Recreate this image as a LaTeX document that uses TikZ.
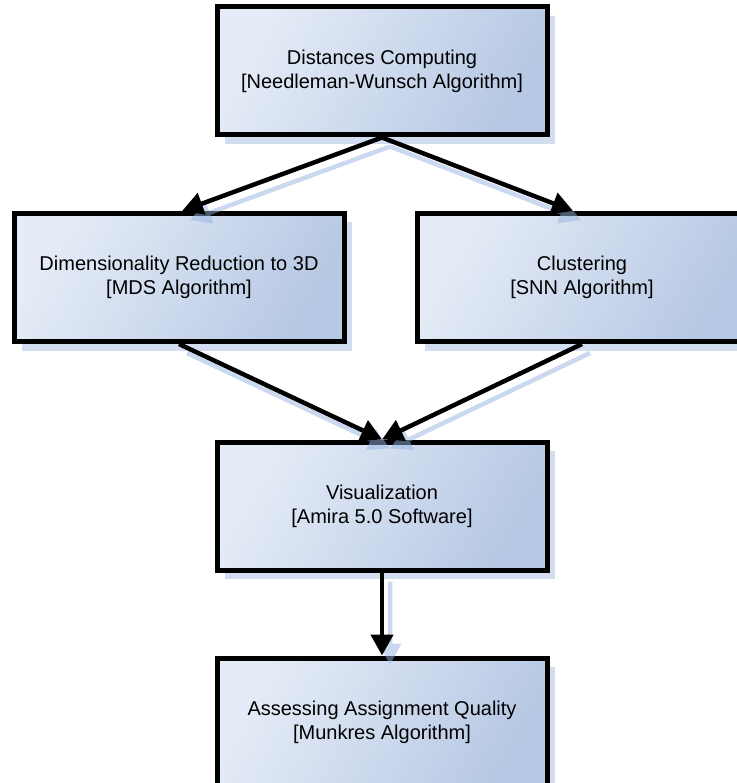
\documentclass[tikz,border=0pt]{standalone}
\usepackage{fontspec}
\setmainfont{Liberation Sans}
\usetikzlibrary{arrows.meta,shadows}

\definecolor{boxlight}{RGB}{229,236,247}
\definecolor{boxdark}{RGB}{183,200,228}
\definecolor{boxshadow}{RGB}{210,222,240}
\definecolor{lineshadow}{RGB}{150,180,225}

\begin{document}
\begin{tikzpicture}[x=1pt, y=-1pt,
    stage/.style={rectangle, draw=black, line width=5pt, align=center,
        minimum width=330pt, minimum height=128pt,
        top color=boxlight, bottom color=boxdark, shading angle=60,
        font=\fontsize{20}{24}\selectfont,
        drop shadow={shadow xshift=8pt, shadow yshift=-9pt, fill=boxshadow, opacity=1}},
    flow/.style={line width=4.5pt, -{Triangle[length=21pt, width=22pt]}},
    flowshadow/.style={flow, draw=lineshadow, fill=lineshadow}]
    \useasboundingbox (0,0) rectangle (736,783);

    % processing stages
    \node[stage] (dist)   at (382,71)    {Distances Computing\\{[}Needleman-Wunsch Algorithm{]}};
    \node[stage] (dimred) at (179,277.5) {Dimensionality Reduction to 3D\\{[}MDS Algorithm{]}};
    \node[stage] (clust)  at (582,277.5) {Clustering\\{[}SNN Algorithm{]}};
    \node[stage] (vis)    at (382,506)   {Visualization\\{[}Amira 5.0 Software{]}};
    \node[stage] (assess) at (382,722)   {Assessing Assignment Quality\\{[}Munkres Algorithm{]}};

    % connector shadows
    \begin{scope}[transform canvas={shift={(8pt,-9pt)}}, opacity=0.5, transparency group]
        \draw[flowshadow] (dist.south) -- ([xshift=3pt]dimred.north);
        \draw[flowshadow] (dist.south) -- ([xshift=-9pt]clust.north);
        \draw[flowshadow] (dimred.south) -- (vis.north);
        \draw[flowshadow] (clust.south) -- (vis.north);
        \draw[flowshadow] (vis.south) -- (assess.north);
    \end{scope}

    % connectors
    \draw[flow] (dist.south) -- ([xshift=3pt]dimred.north);
    \draw[flow] (dist.south) -- ([xshift=-9pt]clust.north);
    \draw[flow] (dimred.south) -- (vis.north);
    \draw[flow] (clust.south) -- (vis.north);
    \draw[flow] (vis.south) -- (assess.north);
\end{tikzpicture}
\end{document}
